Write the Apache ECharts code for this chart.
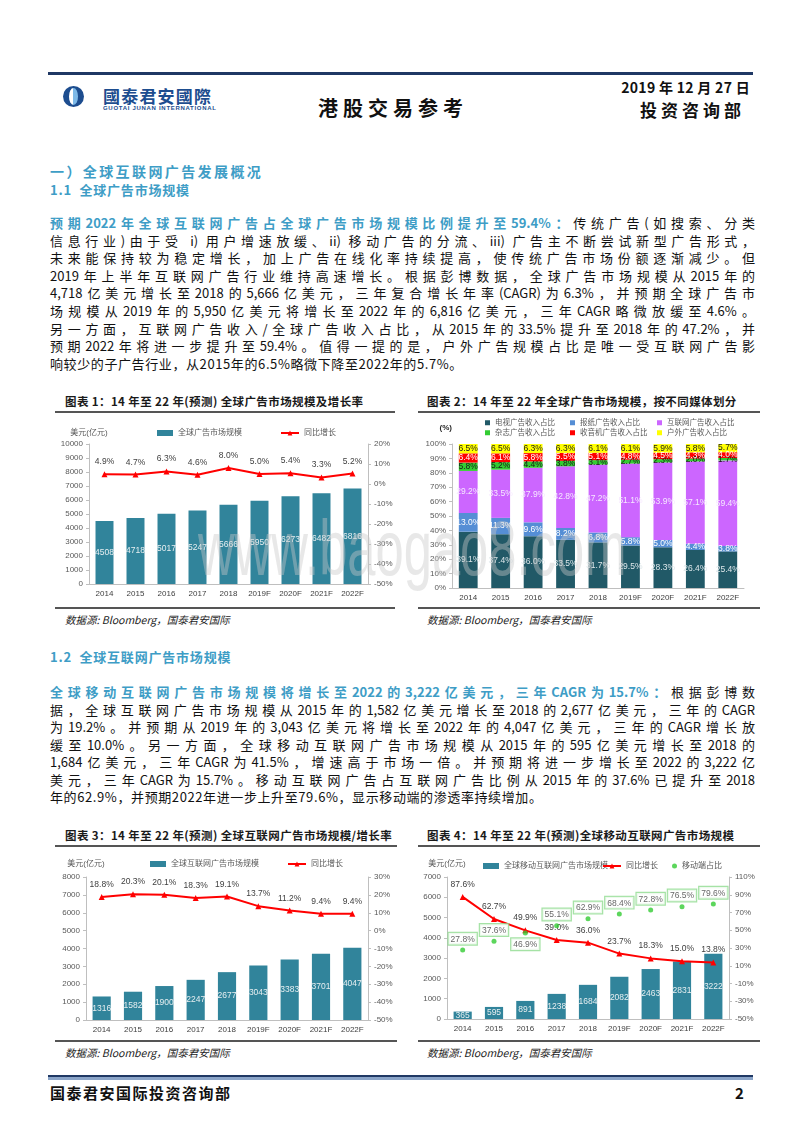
<!DOCTYPE html>
<html><head><meta charset="utf-8">
<script src="https://cdn.jsdelivr.net/npm/echarts@6.0.0/dist/echarts.min.js"></script>
<style>
html,body{margin:0;padding:0;background:#fff}
body{width:800px;height:1132px;position:relative;overflow:hidden;font-family:"Noto Sans CJK SC","Liberation Sans",sans-serif;color:#111}
.a{position:absolute;white-space:nowrap}
.ln{position:absolute;left:50px;width:705px;font-size:13px;line-height:18px;height:18px;text-align:justify;text-align-last:justify;overflow:visible}
.ln.last{text-align:left;text-align-last:left;letter-spacing:0.6px}
.hl{color:#3E9DC6;font-weight:bold}
.h1{color:#3E9DC6;font-weight:bold;font-size:14px;letter-spacing:2.4px}
.h2{color:#3E9DC6;font-weight:bold;font-size:13px;letter-spacing:0.8px}
.ct{font-weight:bold;font-size:11.5px;letter-spacing:0.4px;color:#1a1a1a;line-height:14px}
.rule{position:absolute;height:1.5px;background:#555}
.src{font-style:italic;font-size:10.5px;color:#222;line-height:14px}
.chart{position:absolute}
.wm{position:absolute;left:198px;top:509px;font-family:"Liberation Sans",sans-serif;font-size:78px;line-height:78px;color:rgba(200,200,200,0.42);transform:scaleX(0.65);transform-origin:left top;white-space:nowrap;pointer-events:none;z-index:10}
</style></head>
<body>
<!-- header -->
<div class="a" style="left:48px;top:72px;width:705px;height:3px;background:#1F3864"></div>
<div class="a" style="left:63px;top:86px;width:21px;height:21px;border-radius:50%;background:#1D4D8F"></div>
<div class="a" style="left:69px;top:88px;width:9px;height:17px;border-radius:50%;background:linear-gradient(90deg,#ffffff 50%,#7DB9E8 50%)"></div>
<div class="a" style="left:103px;top:85px;font-size:17px;font-weight:bold;color:#1D4D8F;letter-spacing:1.2px;line-height:21px">國泰君安國際</div>
<div class="a" style="left:103px;top:105px;font-size:6px;font-weight:bold;color:#1D4D8F;letter-spacing:0.7px;line-height:7px;font-family:'Liberation Sans'">GUOTAI JUNAN INTERNATIONAL</div>
<div class="a" style="left:318px;top:96px;font-size:20px;font-weight:bold;letter-spacing:5px;line-height:24px;color:#111">港股交易参考</div>
<div class="a" style="right:50px;top:78px;font-size:14px;font-weight:bold;line-height:18px;color:#111;letter-spacing:0.3px">2019 年 12 月 27 日</div>
<div class="a" style="left:640px;top:99px;font-size:17px;font-weight:bold;letter-spacing:4px;line-height:22px;color:#111">投资咨询部</div>

<!-- section 1 -->
<div class="a h1" style="left:50px;top:161px;line-height:20px">一）全球互联网广告发展概况</div>
<div class="a h2" style="left:50px;top:181px;line-height:18px">1.1&nbsp; 全球广告市场规模</div>

<div class="ln" style="top:214px"><span class="hl">预期2022年全球互联网广告占全球广告市场规模比例提升至59.4%：</span>传统广告(如搜索、分类</div>
<div class="ln" style="top:231.6px">信息行业)由于受 i) 用户增速放缓、ii) 移动广告的分流、iii) 广告主不断尝试新型广告形式，</div>
<div class="ln" style="top:249.2px">未来能保持较为稳定增长，加上广告在线化率持续提高，使传统广告市场份额逐渐减少。但</div>
<div class="ln" style="top:266.8px">2019年上半年互联网广告行业维持高速增长。根据彭博数据，全球广告市场规模从2015年的</div>
<div class="ln" style="top:284.4px">4,718亿美元增长至2018的5,666亿美元，三年复合增长年率(CAGR)为6.3%，并预期全球广告市</div>
<div class="ln" style="top:302px">场规模从2019年的5,950亿美元将增长至2022年的6,816亿美元，三年CAGR略微放缓至4.6%。</div>
<div class="ln" style="top:319.6px">另一方面，互联网广告收入/全球广告收入占比，从2015年的33.5%提升至2018年的47.2%，并</div>
<div class="ln" style="top:337.2px">预期2022年将进一步提升至59.4%。值得一提的是，户外广告规模占比是唯一受互联网广告影</div>
<div class="ln last" style="top:354.8px">响较少的子广告行业，从2015年的6.5%略微下降至2022年的5.7%。</div>

<!-- chart 1 & 2 frames -->
<div class="a ct" style="left:65px;top:394px">图表 1：14 年至 22 年(预测) 全球广告市场规模及增长率</div>
<div class="rule" style="left:55px;top:411px;width:340px"></div>
<div class="rule" style="left:55px;top:607px;width:340px"></div>
<div class="a src" style="left:65px;top:613px">数据源: Bloomberg，国泰君安国际</div>
<div id="c1" class="chart" style="left:40px;top:418px;width:360px;height:188px"></div>

<div class="a ct" style="left:427px;top:394px">图表 2：14 年至 22 年全球广告市场规模，按不同媒体划分</div>
<div class="rule" style="left:418px;top:411px;width:342px"></div>
<div class="rule" style="left:418px;top:607px;width:342px"></div>
<div class="a src" style="left:427px;top:613px">数据源: Bloomberg，国泰君安国际</div>
<div id="c2" class="chart" style="left:405px;top:418px;width:370px;height:188px"></div>

<!-- section 1.2 -->
<div class="a h2" style="left:50px;top:648px;line-height:18px">1.2&nbsp; 全球互联网广告市场规模</div>
<div class="ln" style="top:683px"><span class="hl">全球移动互联网广告市场规模将增长至2022的3,222亿美元，三年CAGR为15.7%：</span>根据彭博数</div>
<div class="ln" style="top:700.5px">据，全球互联网广告市场规模从2015年的1,582亿美元增长至2018的2,677亿美元，三年的CAGR</div>
<div class="ln" style="top:718px">为19.2%。并预期从2019年的3,043亿美元将增长至2022年的4,047亿美元，三年的CAGR增长放</div>
<div class="ln" style="top:735.5px">缓至10.0%。另一方面，全球移动互联网广告市场规模从2015年的595亿美元增长至2018的</div>
<div class="ln" style="top:753px">1,684亿美元，三年CAGR为41.5%，增速高于市场一倍。并预期将进一步增长至2022的3,222亿</div>
<div class="ln" style="top:770.5px">美元，三年CAGR为15.7%。移动互联网广告占互联网广告比例从2015年的37.6%已提升至2018</div>
<div class="ln last" style="top:788px">年的62.9%，并预期2022年进一步上升至79.6%，显示移动端的渗透率持续增加。</div>

<!-- chart 3 & 4 frames -->
<div class="a ct" style="left:65px;top:828px">图表 3：14 年至 22 年(预测) 全球互联网广告市场规模/增长率</div>
<div class="rule" style="left:55px;top:845px;width:342px"></div>
<div class="rule" style="left:55px;top:1040px;width:342px"></div>
<div class="a src" style="left:65px;top:1046px">数据源: Bloomberg，国泰君安国际</div>
<div id="c3" class="chart" style="left:40px;top:852px;width:360px;height:187px"></div>

<div class="a ct" style="left:427px;top:828px">图表 4：14 年至 22 年(预测)全球移动互联网广告市场规模</div>
<div class="rule" style="left:418px;top:845px;width:342px"></div>
<div class="rule" style="left:418px;top:1040px;width:342px"></div>
<div class="a src" style="left:427px;top:1046px">数据源: Bloomberg，国泰君安国际</div>
<div id="c4" class="chart" style="left:400px;top:852px;width:375px;height:187px"></div>

<!-- footer -->
<div class="a" style="left:48px;top:1075px;width:705px;height:5px;background:linear-gradient(180deg,#1F3864 0,#1F3864 45%,#8AA4C8 45%,#8AA4C8 100%)"></div>
<div class="a" style="left:50px;top:1083px;font-size:15px;font-weight:bold;letter-spacing:1.5px;line-height:20px;color:#111">国泰君安国际投资咨询部</div>
<div class="a" style="left:735px;top:1083px;font-size:15px;font-weight:bold;line-height:20px;color:#111">2</div>

<div class="wm">www.baogao8.com</div>

<script>
// ---------- data ----------
const years = ['2014','2015','2016','2017','2018','2019F','2020F','2021F','2022F'];
// chart 1: global ad market (USD 100m) and YoY growth (%)
const globalAdMarket = [4508,4718,5017,5247,5666,5950,6273,6482,6816];
const globalAdGrowth = [4.9,4.7,6.3,4.6,8.0,5.0,5.4,3.3,5.2];
// chart 2: share by media (%)
const tvShare = [39.1,37.4,36.0,33.5,31.7,29.5,28.3,26.4,25.4];
const newspaperShare = [13.0,11.3,9.6,8.2,6.8,5.8,5.0,4.4,3.8];
const internetShare = [29.2,33.5,37.9,42.8,47.2,51.1,53.9,57.1,59.4];
const magazineShare = [5.8,5.2,4.4,3.8,3.1,2.7,2.3,2.0,1.7];
const radioShare = [6.4,6.1,5.8,5.5,5.1,4.8,4.5,4.3,4.0];
const outdoorShare = [6.5,6.5,6.3,6.3,6.1,6.1,5.9,5.8,5.7];
// chart 3: global internet ad market and growth
const internetAdMarket = [1316,1582,1900,2247,2677,3043,3383,3701,4047];
const internetAdGrowth = [18.8,20.3,20.1,18.3,19.1,13.7,11.2,9.4,9.4];
// chart 4: global mobile internet ad market, growth and mobile share
const mobileAdMarket = [365,595,891,1238,1684,2082,2463,2831,3222];
const mobileAdGrowth = [87.6,62.7,49.9,39.0,36.0,23.7,18.3,15.0,13.8];
const mobileShare = [27.8,37.6,46.9,55.1,62.9,68.4,72.8,76.5,79.6];
// chart 4 right-axis tick labels (%)
const chart4RightTicks = [-50,-30,-10,10,30,50,70,90,110];

// ---------- styles ----------
const FONT = '"Liberation Sans","Noto Sans CJK SC",sans-serif';
const AX = '#BFBFBF', LBL = '#595959', BAR = '#31849B', RED = '#FF0000';
const pct = p => p.value.toFixed(1) + '%';
const plain = v => String(v);

function valAxis(extra){
  return Object.assign({
    type:'value',
    axisLine:{show:true,lineStyle:{color:AX}},
    axisTick:{show:true,inside:false,length:3,lineStyle:{color:AX}},
    splitLine:{show:false},
    axisLabel:{color:LBL,fontSize:8,margin:6,fontFamily:FONT,formatter:plain}
  }, extra);
}
function catAxis(){
  return {type:'category',data:years,
    axisLine:{lineStyle:{color:AX}},axisTick:{show:false},
    axisLabel:{color:'#404040',fontSize:8,margin:6,fontFamily:FONT}};
}
function legendItem(name,left,top,opt){
  return Object.assign({data:[name],left:left,top:top,itemWidth:16,itemHeight:6,
    textStyle:{color:LBL,fontSize:8,fontFamily:FONT},padding:0,itemGap:4}, opt||{});
}
function barSeries(name,data){
  return {name:name,type:'bar',data:data,barWidth:'58%',itemStyle:{color:BAR},
    label:{show:true,position:'inside',color:'#E6EEF0',fontSize:8.5,fontFamily:FONT},z:2};
}
function lineSeries(name,data){
  return {name:name,type:'line',yAxisIndex:1,data:data,symbol:'triangle',symbolSize:6,
    lineStyle:{color:RED,width:2},itemStyle:{color:RED},
    label:{show:true,position:'top',distance:5,formatter:pct,color:'#404040',fontSize:8.5,fontFamily:FONT},z:5};
}

// ---------- chart 1 ----------
echarts.init(document.getElementById('c1')).setOption({
  animation:false,
  textStyle:{fontFamily:FONT},
  legend:[legendItem('全球广告市场规模',117,11,{icon:'rect'}),legendItem('同比增长',240,11,{itemWidth:18})],
  grid:{left:49,right:32,top:26,bottom:22},
  xAxis:catAxis(),
  yAxis:[
    valAxis({min:0,max:10000,interval:1000,name:'美元(亿元)',nameGap:7,nameTextStyle:{color:LBL,fontSize:8}}),
    valAxis({min:-50,max:20,interval:10,position:'right',axisLabel:{color:LBL,fontSize:8,margin:6,formatter:'{value}%'}})
  ],
  series:[barSeries('全球广告市场规模',globalAdMarket),lineSeries('同比增长',globalAdGrowth)]
});

// ---------- chart 2 ----------
const mediaSeries = [
  {name:'电视广告收入占比',data:tvShare,color:'#215967',lc:'#DDE7EA'},
  {name:'报纸广告收入占比',data:newspaperShare,color:'#558ED5',lc:'#FFFFFF'},
  {name:'互联网广告收入占比',data:internetShare,color:'#CC66FF',lc:'#F6E8FF'},
  {name:'杂志广告收入占比',data:magazineShare,color:'#33CC33',lc:'#1A1A1A'},
  {name:'收音机广告收入占比',data:radioShare,color:'#FF0000',lc:'#FFFFFF'},
  {name:'户外广告收入占比',data:outdoorShare,color:'#FFFF00',lc:'#1A1A1A'}
];
const legPos2 = [[80,1],[165,1],[252,1],[80,11],[165,11],[252,11]];
echarts.init(document.getElementById('c2')).setOption({
  animation:false,
  textStyle:{fontFamily:FONT},
  legend:mediaSeries.map((s,i)=>legendItem(s.name,legPos2[i][0],legPos2[i][1],{icon:'rect',itemWidth:5,itemHeight:5,textStyle:{color:LBL,fontSize:7.5,fontFamily:FONT}})),
  grid:{left:47,right:31,top:26,bottom:18},
  xAxis:catAxis(),
  yAxis:valAxis({min:0,max:100,interval:10,name:'(%)',nameGap:12,
    nameTextStyle:{color:'#262626',fontSize:8,fontWeight:'bold',align:'right'},
    axisLabel:{color:LBL,fontSize:8,margin:6,formatter:'{value}%'}}),
  series:mediaSeries.map(s=>({name:s.name,type:'bar',stack:'all',data:s.data,barWidth:'58%',
    itemStyle:{color:s.color},
    label:{show:true,position:'inside',formatter:pct,color:s.lc,fontSize:8.5,fontFamily:FONT}}))
});

// ---------- chart 3 ----------
echarts.init(document.getElementById('c3')).setOption({
  animation:false,
  textStyle:{fontFamily:FONT},
  legend:[legendItem('全球互联网广告市场规模',110,8,{icon:'rect'}),legendItem('同比增长',247,8,{itemWidth:18})],
  grid:{left:46,right:32,top:25,bottom:19},
  xAxis:catAxis(),
  yAxis:[
    valAxis({min:0,max:8000,interval:1000,name:'美元(亿元)',nameGap:9,nameTextStyle:{color:LBL,fontSize:8}}),
    valAxis({min:-50,max:30,interval:10,position:'right',axisLabel:{color:LBL,fontSize:8,margin:6,formatter:'{value}%'}})
  ],
  series:[barSeries('全球互联网广告市场规模',internetAdMarket),lineSeries('同比增长',internetAdGrowth)]
});

// ---------- chart 4 ----------
echarts.init(document.getElementById('c4')).setOption({
  animation:false,
  textStyle:{fontFamily:FONT},
  legend:[
    legendItem('全球移动互联网广告市场规模',83,10,{icon:'rect'}),
    legendItem('同比增长',202,10,{itemWidth:18}),
    legendItem('移动端占比',272,10,{icon:'circle',itemWidth:5,itemHeight:5})
  ],
  grid:{left:47,right:46,top:25,bottom:20},
  xAxis:catAxis(),
  yAxis:[
    valAxis({min:0,max:7000,interval:1000,name:'美元(亿元)',nameGap:9,nameTextStyle:{color:LBL,fontSize:8}}),
    valAxis({min:-50,max:110,position:'right',
      axisTick:{show:true,length:3,lineStyle:{color:AX},customValues:chart4RightTicks},
      axisLabel:{color:LBL,fontSize:8,margin:6,formatter:'{value}%',customValues:chart4RightTicks}})
  ],
  series:[
    barSeries('全球移动互联网广告市场规模',mobileAdMarket),
    lineSeries('同比增长',mobileAdGrowth),
    {name:'移动端占比',type:'scatter',yAxisIndex:1,symbol:'circle',symbolSize:5,
      itemStyle:{color:'#33CC33'},z:6,
      data:mobileShare.map((v,i)=> i===2 ? {value:v,label:{position:'bottom'}} : v),
      label:{show:true,position:'top',distance:3,formatter:pct,color:'#404040',fontSize:8.5,fontFamily:FONT,
        backgroundColor:'#FFFFFF',borderColor:'#8FDB8F',borderWidth:1.2,padding:[2,2,1,2]}}
  ]
});
</script>
</body></html>
